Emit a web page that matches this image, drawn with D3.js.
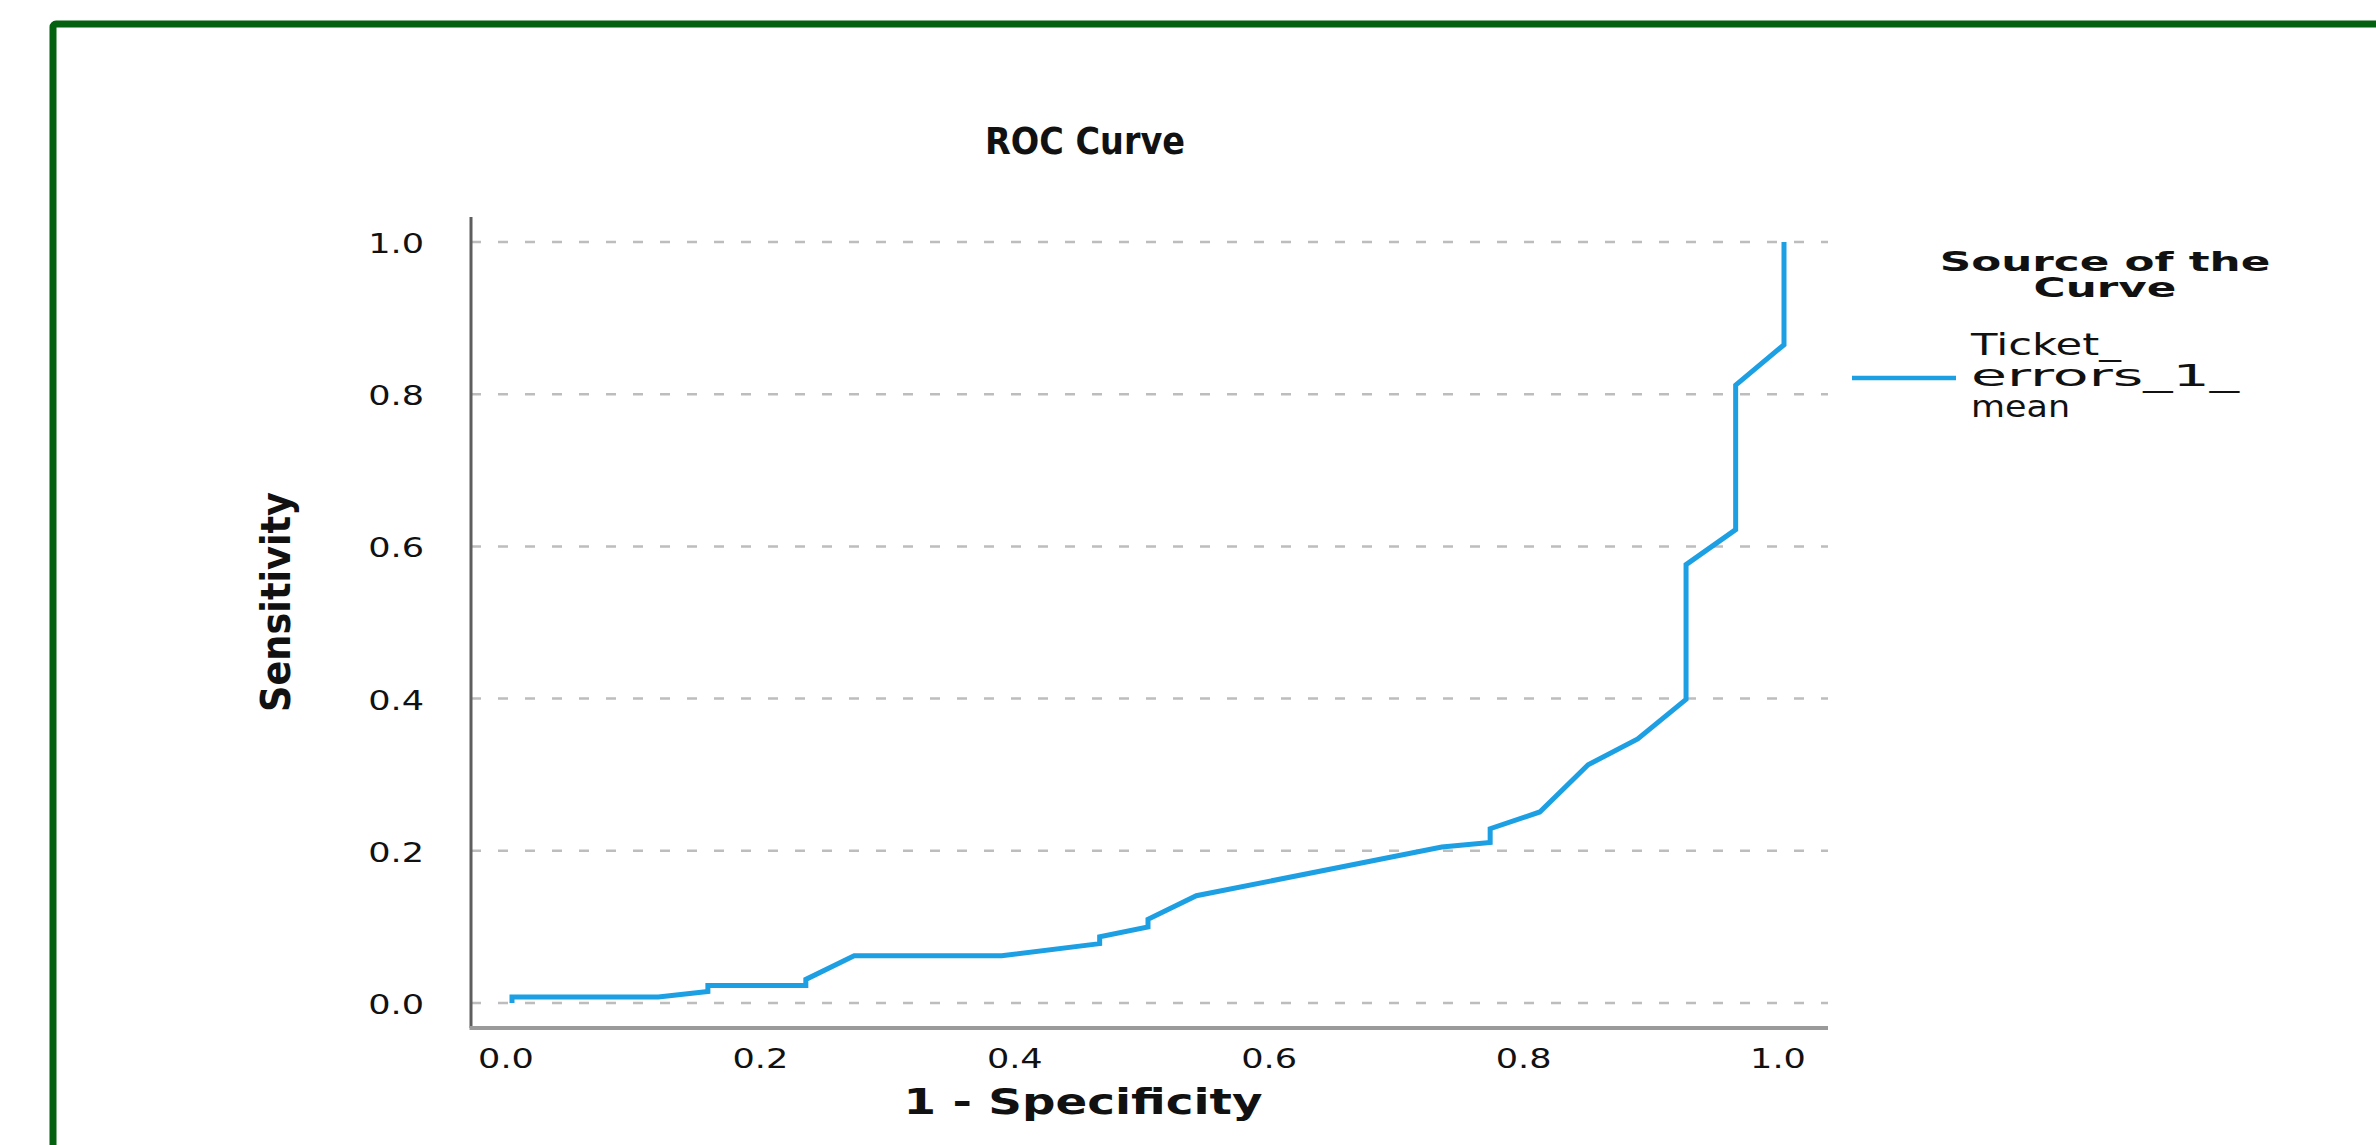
<!DOCTYPE html>
<html>
<head>
<meta charset="utf-8">
<script src="https://cdn.jsdelivr.net/npm/d3@7/dist/d3.min.js"></script>
<style>
  html, body { margin: 0; padding: 0; background: #ffffff; }
  svg { display: block; }
  text { font-family: "DejaVu Sans", Verdana, sans-serif; fill: #111; }
</style>
</head>
<body>
<svg id="chart" width="2376" height="1145"></svg>
<script>
// ---- data ----
const fpr = [0, 0, 0.115, 0.154, 0.154, 0.231, 0.231, 0.269, 0.385, 0.462, 0.462, 0.500, 0.500, 0.538, 0.731, 0.769, 0.769, 0.808, 0.846, 0.885, 0.923, 0.923, 0.962, 0.962, 1.0, 1.0];
const tpr = [0, 0.008, 0.008, 0.015, 0.023, 0.023, 0.031, 0.062, 0.062, 0.078, 0.087, 0.100, 0.110, 0.141, 0.205, 0.211, 0.229, 0.251, 0.313, 0.347, 0.399, 0.576, 0.622, 0.812, 0.865, 1.0];
const xTicks = [0, 0.2, 0.4, 0.6, 0.8, 1.0];
const yTicks = [0, 0.2, 0.4, 0.6, 0.8, 1.0];
const titleText = "ROC Curve";
const xLabel = "1 - Specificity";
const yLabel = "Sensitivity";
const legendTitle = ["Source of the", "Curve"];
const legendEntry = ["Ticket_", "errors_1_", "mean"];

// ---- layout ----
const svg = d3.select("#chart");
const x = d3.scaleLinear().domain([0, 1]).range([512, 1784]);
const y = d3.scaleLinear().domain([0, 1]).range([1003, 242]);
const plotLeft = 471, plotRight = 1828, axisY = 1028, axisTop = 217;
const curveColor = "#1d9fe4";
const fmt = d3.format(".1f");
const SX = 1.3; // horizontal stretch of tick glyphs in the reference

function fit(sel, targetW) {
  return targetW / sel.node().getComputedTextLength();
}

// green frame
svg.append("rect")
  .attr("x", 53).attr("y", 24)
  .attr("width", 2500).attr("height", 1300)
  .attr("rx", 3)
  .attr("fill", "none").attr("stroke", "#03610f").attr("stroke-width", 7);

// gridlines
svg.append("g").selectAll("line").data(yTicks).join("line")
  .attr("x1", plotLeft).attr("x2", plotRight)
  .attr("y1", d => y(d)).attr("y2", d => y(d))
  .attr("stroke", "#bdbdbd").attr("stroke-width", 2.5)
  .attr("stroke-dasharray", "10,17");

// axes lines
svg.append("line").attr("x1", plotLeft).attr("x2", plotLeft)
  .attr("y1", axisTop).attr("y2", axisY)
  .attr("stroke", "#5e5e5e").attr("stroke-width", 3);
svg.append("line").attr("x1", plotLeft - 1.5).attr("x2", plotRight)
  .attr("y1", axisY).attr("y2", axisY)
  .attr("stroke", "#9a9a9a").attr("stroke-width", 4);

// tick labels
svg.append("g").selectAll("text").data(yTicks).join("text")
  .attr("transform", d => `translate(424,${y(d) + 11}) scale(${SX},1)`)
  .attr("text-anchor", "end")
  .style("font-size", "27px")
  .text(d => fmt(d));
svg.append("g").selectAll("text").data(xTicks).join("text")
  .attr("transform", d => `translate(${x(d) - 6},1068) scale(${SX},1)`)
  .attr("text-anchor", "middle")
  .style("font-size", "27px")
  .text(d => fmt(d));

// ROC curve
const pts = fpr.map((v, i) => [v, tpr[i]]);
svg.append("path")
  .datum(pts)
  .attr("d", d3.line().x(d => x(d[0])).y(d => y(d[1])))
  .attr("fill", "none").attr("stroke", curveColor)
  .attr("stroke-width", 5).attr("stroke-linejoin", "miter");

// title
const t = svg.append("text").style("font-size", "38px").style("font-weight", "bold")
  .attr("text-anchor", "middle").text(titleText);
t.attr("transform", `translate(1085,154) scale(${fit(t, 200)},1)`);

// x label
const xl = svg.append("text").style("font-size", "36px").style("font-weight", "bold")
  .attr("text-anchor", "middle").text(xLabel);
xl.attr("transform", `translate(1083,1114) scale(${fit(xl, 359)},1)`);

// y label (rotated)
const yl = svg.append("text").style("font-size", "40px").style("font-weight", "bold")
  .style("font-stretch", "condensed")
  .attr("text-anchor", "middle").text(yLabel);
yl.attr("transform", `translate(290,602) rotate(-90) scale(${fit(yl, 220)},1)`);

// legend title: one text element, two centred lines
const lt = svg.append("text")
  .style("font-size", "26px").style("font-weight", "bold")
  .attr("text-anchor", "middle")
  .attr("transform", "translate(2105,271) scale(1.68,1)");
lt.selectAll("tspan").data(legendTitle).join("tspan")
  .attr("x", 0).attr("y", (d, i) => i * 26)
  .text(d => d);

// legend swatch
svg.append("line").attr("x1", 1852).attr("x2", 1956).attr("y1", 378).attr("y2", 378)
  .attr("stroke", curveColor).attr("stroke-width", 4.5);

// legend entry: one text element, three wrapped lines
const leW = [150, 268, 99];
const le = svg.append("text")
  .style("font-size", "30px")
  .attr("transform", "translate(1971,355)");
le.selectAll("tspan").data(legendEntry).join("tspan")
  .attr("x", 0).attr("y", (d, i) => i * 31)
  .attr("textLength", (d, i) => leW[i])
  .attr("lengthAdjust", "spacingAndGlyphs")
  .text(d => d);
</script>
</body>
</html>
